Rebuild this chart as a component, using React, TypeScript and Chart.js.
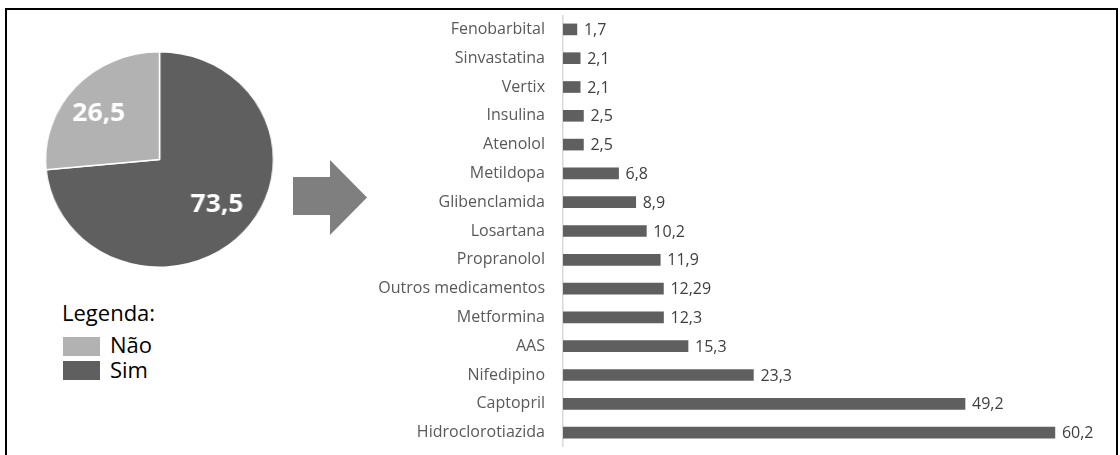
import React, { useEffect, useRef } from "react";
import { Chart, registerables } from "chart.js";

Chart.register(...registerables);

const pieLabels = ["Sim", "Não"];
const pieValues = [73.5, 26.5];
const pieColors = ["#5f5f5f", "#b2b2b2"];

const drugs = [
  "Fenobarbital",
  "Sinvastatina",
  "Vertix",
  "Insulina",
  "Atenolol",
  "Metildopa",
  "Glibenclamida",
  "Losartana",
  "Propranolol",
  "Outros medicamentos",
  "Metformina",
  "AAS",
  "Nifedipino",
  "Captopril",
  "Hidroclorotiazida",
];
const drugValues = [1.7, 2.1, 2.1, 2.5, 2.5, 6.8, 8.9, 10.2, 11.9, 12.29, 12.3, 15.3, 23.3, 49.2, 60.2];

const fmt = (v: number) => String(v).replace(".", ",");

const FONT = "'Open Sans', 'DejaVu Sans', sans-serif";

// label placement inside pie slices (fraction of radius)
const pieLabelRadius = [0.65, 0.686];
const pieLabelAngleShift = -0.056;

const pieLabelPlugin = {
  id: "pieLabels",
  afterDatasetsDraw(chart: any) {
    const ctx = chart.ctx;
    const meta = chart.getDatasetMeta(0);
    ctx.save();
    ctx.fillStyle = "#ffffff";
    ctx.font = `bold 25px ${FONT}`;
    ctx.textAlign = "center";
    ctx.textBaseline = "middle";
    meta.data.forEach((arc: any, i: number) => {
      const mid = (arc.startAngle + arc.endAngle) / 2 + pieLabelAngleShift;
      const r = arc.outerRadius * pieLabelRadius[i];
      ctx.fillText(fmt(pieValues[i]), arc.x + Math.cos(mid) * r, arc.y + Math.sin(mid) * r + 1);
    });
    ctx.restore();
  },
};

const barLabelPlugin = {
  id: "barLabels",
  afterDatasetsDraw(chart: any) {
    const ctx = chart.ctx;
    const meta = chart.getDatasetMeta(0);
    ctx.save();
    ctx.fillStyle = "#404040";
    ctx.font = `16px ${FONT}`;
    ctx.textAlign = "left";
    ctx.textBaseline = "middle";
    meta.data.forEach((bar: any, i: number) => {
      ctx.fillText(fmt(drugValues[i]), bar.x + 7, bar.y + 1);
    });
    ctx.restore();
  },
};

export default function App() {
  const pieRef = useRef<HTMLCanvasElement>(null);
  const barRef = useRef<HTMLCanvasElement>(null);

  useEffect(() => {
    const pie = new Chart(pieRef.current!, {
      type: "pie",
      data: {
        labels: pieLabels,
        datasets: [
          {
            data: pieValues,
            backgroundColor: pieColors,
            borderColor: "#ffffff",
            borderWidth: 1.5,
          },
        ],
      },
      options: {
        animation: false,
        responsive: true,
        maintainAspectRatio: false,
        rotation: 0,
        layout: { padding: 0 },
        plugins: { legend: { display: false }, tooltip: { enabled: false } },
      },
      plugins: [pieLabelPlugin],
    });

    const bar = new Chart(barRef.current!, {
      type: "bar",
      data: {
        labels: drugs,
        datasets: [
          {
            data: drugValues,
            backgroundColor: "#5f5f5f",
            borderWidth: 0,
            barThickness: 11,
          },
        ],
      },
      options: {
        animation: false,
        responsive: true,
        maintainAspectRatio: false,
        indexAxis: "y",
        layout: { padding: 0 },
        scales: {
          x: { display: false, min: 0, max: 66.7 },
          y: {
            afterFit: (s: any) => {
              s.width = 203;
              s.paddingTop = 0;
              s.paddingBottom = 0;
            },
            grid: { display: false, drawTicks: false },
            border: { display: true, color: "#d9d9d9", width: 1.5 },
            ticks: {
              padding: 18,
              color: "#595959",
              font: { family: FONT, size: 16 },
            },
          },
        },
        plugins: { legend: { display: false }, tooltip: { enabled: false } },
      },
      plugins: [barLabelPlugin],
    });

    return () => {
      pie.destroy();
      bar.destroy();
    };
  }, []);

  const legendText: React.CSSProperties = {
    position: "absolute",
    left: 110,
    fontSize: 22,
    color: "#000",
    lineHeight: "26px",
    whiteSpace: "nowrap",
  };

  return (
    <div
      style={{
        position: "fixed",
        left: 0,
        top: 0,
        width: 1120,
        height: 455,
        background: "#ffffff",
        overflow: "hidden",
        fontFamily: FONT,
      }}
    >
      <div
        style={{
          position: "absolute",
          left: 5,
          top: 8,
          width: 1113,
          height: 470,
          border: "2px solid #000",
          boxSizing: "border-box",
        }}
      />
      <div
        style={{
          position: "absolute",
          left: 51,
          top: 51,
          width: 217,
          height: 217,
          transform: "scaleX(1.058)",
          transformOrigin: "center center",
        }}
      >
        <canvas ref={pieRef} />
      </div>
      <div style={{ ...legendText, left: 62, top: 299 }}>Legenda:</div>
      <div style={{ position: "absolute", left: 63, top: 337, width: 37, height: 19, background: pieColors[1] }} />
      <div style={{ ...legendText, top: 331 }}>{pieLabels[1]}</div>
      <div style={{ position: "absolute", left: 63, top: 361, width: 37, height: 19, background: pieColors[0] }} />
      <div style={{ ...legendText, top: 356 }}>{pieLabels[0]}</div>
      <svg style={{ position: "absolute", left: 0, top: 0 }} width={1120} height={455}>
        <polygon points="293,177 330,177 330,160 367,197.5 330,235 330,215 293,215" fill="#7f7f7f" />
      </svg>
      <div style={{ position: "absolute", left: 360, top: 15, width: 748, height: 432 }}>
        <canvas ref={barRef} />
      </div>
    </div>
  );
}
